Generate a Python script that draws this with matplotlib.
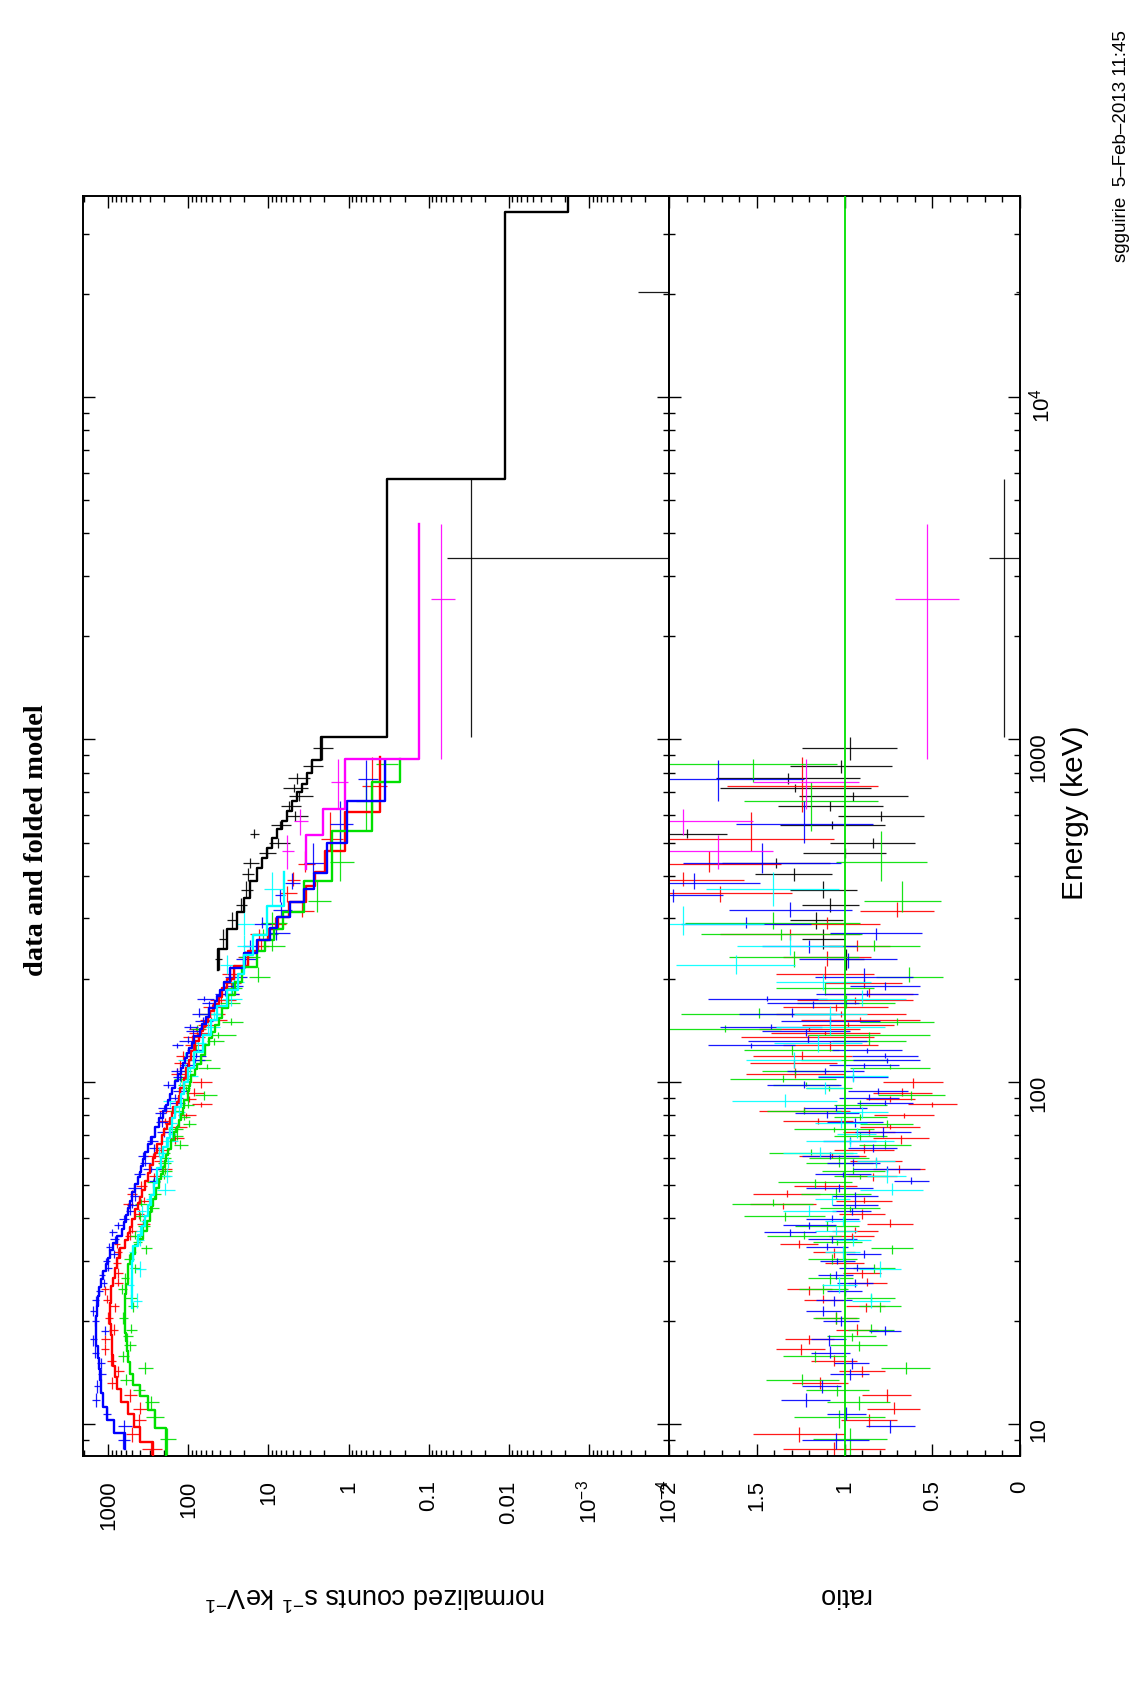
import numpy as np
import matplotlib
matplotlib.use("Agg")
import matplotlib.pyplot as plt
from matplotlib.ticker import FixedFormatter, FixedLocator, LogLocator, MultipleLocator, NullFormatter

plt.rcParams["font.family"] = ["Liberation Sans", "DejaVu Sans"]
plt.rcParams["mathtext.fontset"] = "custom"
plt.rcParams["mathtext.rm"] = "Liberation Sans"
plt.rcParams["mathtext.it"] = "Liberation Sans:italic"
plt.rcParams["mathtext.bf"] = "Liberation Sans:bold"

# ---- NaI detectors: bin centre (keV), folded model (counts/s/keV), data/model ratio, ratio error
blue_energy = [9.0, 9.87, 10.7, 11.8, 12.9, 14.0, 15.1, 16.2, 17.7, 18.7,
               20.0, 21.4, 23.0, 24.5, 25.9, 27.3, 28.7, 30.0, 31.4, 33.0,
               34.8, 36.4, 38.1, 39.9, 42.1, 43.6, 46.5, 49.0, 51.4, 53.9,
               55.5, 58.0, 60.9, 64.3, 67.1, 71.5, 76.2, 81.1, 83.9, 87.0,
               90.0, 93.9, 98.2, 103.0, 107.7, 111.8, 115.6, 119.3, 124, 128,
               132, 141, 145, 151, 158, 170, 175, 181, 190, 203,
               228, 249, 272, 290, 318, 352, 381, 435, 568, 766]
blue_model = [617, 850, 1050, 1160, 1215, 1255, 1290, 1350, 1410, 1420,
              1420, 1400, 1360, 1300, 1220, 1150, 1080, 1020, 960, 880,
              780, 680, 630, 595, 560, 540, 500, 460, 430, 405,
              390, 365, 345, 320, 290, 260, 230, 205, 192, 180,
              170, 158, 146, 135, 125, 117, 110, 104, 97, 91,
              84, 72, 67, 61, 56, 47, 44, 40, 36, 30,
              20, 14, 9.7, 7.8, 5.36, 3.65, 2.74, 1.87, 1.05, 0.348]
blue_ratio = [1.05, 0.74, 0.99, 1.22, 1.13, 0.97, 0.96, 1.08, 1.09, 0.77,
              1.02, 1.12, 1.06, 1.00, 0.94, 1.05, 0.93, 1.04, 0.89, 1.10,
              1.07, 1.31, 1.20, 1.07, 0.96, 0.94, 0.94, 1.03, 0.62, 1.01,
              0.76, 0.95, 1.08, 0.84, 0.97, 0.78, 0.94, 1.10, 1.05, 0.77,
              0.86, 0.81, 1.23, 0.95, 1.11, 0.89, 0.76, 0.77, 0.87, 1.53,
              1.21, 1.22, 1.42, 1.08, 1.30, 1.18, 1.44, 0.87, 0.77, 0.89,
              0.98, 1.20, 0.82, 1.56, 1.31, 1.98, 1.86, 1.47, 1.23, 1.72]
blue_err = [0.19, 0.14, 0.11, 0.14, 0.11, 0.11, 0.10, 0.11, 0.10, 0.09,
            0.10, 0.10, 0.10, 0.10, 0.10, 0.10, 0.10, 0.10, 0.10, 0.12,
            0.14, 0.15, 0.15, 0.15, 0.11, 0.13, 0.13, 0.19, 0.10, 0.16,
            0.19, 0.15, 0.16, 0.14, 0.15, 0.16, 0.16, 0.18, 0.18, 0.16,
            0.17, 0.17, 0.21, 0.20, 0.22, 0.20, 0.19, 0.19, 0.20, 0.25,
            0.34, 0.25, 0.29, 0.28, 0.30, 0.26, 0.34, 0.29, 0.20, 0.28,
            0.28, 0.27, 0.26, 0.37, 0.35, 0.29, 0.38, 0.45, 0.39, 0.49]
blue_range = (8.5, 869)

red_energy = [8.46, 9.35, 10.3, 11.1, 12.2, 13.2, 14.3, 15.3, 16.6, 17.7,
              18.9, 20.5, 22.2, 23.0, 24.8, 25.9, 27.7, 29.5, 31.8, 33.6,
              35.5, 36.8, 38.5, 41.1, 43.9, 44.9, 47.1, 49.7, 53.0, 55.5,
              58.9, 60.9, 63.2, 68.4, 71.5, 74.0, 77.0, 80.3, 82.5, 86.2,
              89.1, 92.7, 99.7, 105.6, 113.7, 118.8, 128, 135, 139, 143,
              147, 152, 158, 165, 173, 181, 194, 206, 232, 250,
              270, 290, 315, 357, 389, 434, 513, 731]
red_model = [280, 400, 480, 560, 700, 787, 830, 866, 890, 908,
             925, 950, 950, 934, 920, 866, 830, 780, 714, 618,
             560, 536, 500, 464, 420, 400, 380, 350, 320, 300,
             275, 260, 245, 215, 200, 185, 172, 162, 155, 140,
             132, 127, 115, 107, 98, 93, 82, 74, 70, 66,
             62, 57, 53, 48, 42, 38, 33, 27, 18, 13.5,
             10, 7.5, 5.5, 3.4, 2.6, 1.95, 1.12, 0.41]
red_ratio = [1.06, 1.26, 0.86, 0.72, 0.76, 1.14, 0.90, 1.06, 1.25, 1.20,
             0.93, 1.05, 0.88, 1.12, 1.20, 0.87, 0.90, 1.00, 1.06, 1.26,
             0.96, 0.94, 0.74, 0.90, 1.35, 0.89, 1.33, 1.11, 0.84, 0.69,
             0.82, 1.07, 0.89, 0.68, 0.86, 0.74, 1.15, 0.66, 1.23, 0.50,
             0.74, 0.67, 0.61, 1.28, 1.29, 1.24, 1.08, 1.21, 1.11, 1.20,
             0.98, 0.91, 1.02, 1.05, 0.94, 0.86, 0.89, 1.11, 1.10, 0.93,
             1.31, 1.10, 0.70, 1.71, 1.92, 1.77, 1.53, 1.24]
red_err = [0.29, 0.26, 0.16, 0.15, 0.14, 0.16, 0.13, 0.13, 0.14, 0.14,
           0.12, 0.12, 0.11, 0.11, 0.13, 0.11, 0.11, 0.11, 0.12, 0.11,
           0.13, 0.13, 0.13, 0.13, 0.19, 0.16, 0.19, 0.18, 0.14, 0.15,
           0.15, 0.19, 0.17, 0.16, 0.15, 0.17, 0.20, 0.17, 0.26, 0.14,
           0.14, 0.17, 0.17, 0.28, 0.25, 0.28, 0.27, 0.38, 0.31, 0.29,
           0.26, 0.34, 0.37, 0.30, 0.33, 0.25, 0.22, 0.28, 0.25, 0.19,
           0.40, 0.30, 0.21, 0.41, 0.35, 0.41, 0.47, 0.43]
red_range = (8.0, 889)

green_energy = [9.05, 10.5, 11.6, 12.6, 13.5, 14.6, 15.8, 17.0, 18.1, 18.9,
                20.5, 22.2, 23.4, 24.8, 26.8, 28.7, 30.3, 32.8, 34.0, 35.5,
                38.0, 40.6, 42.9, 43.9, 47.0, 50.9, 53.0, 54.9, 57.8, 59.9,
                62.2, 65.5, 69.6, 72.8, 75.3, 79.2, 82.5, 85.7, 91.8, 96.0,
                98.2, 101.9, 107.7, 109.9, 116.0, 124, 132, 137, 143, 150,
                158, 170, 188, 203, 232, 250, 270, 291, 338, 438,
                662, 847]
green_model = [190, 261, 316, 402, 486, 536, 562, 590, 601, 610,
               618, 618, 618, 600, 575, 562, 520, 464, 422, 372,
               332, 301, 290, 280, 255, 235, 220, 205, 196, 190,
               180, 165, 152, 140, 130, 125, 118, 112, 102, 98,
               96, 92, 82, 78, 70, 62, 55, 50, 46, 42,
               38, 32, 26, 21.5, 14, 11, 8.5, 6.5, 3.65, 1.61,
               0.51, 0.23]
green_ratio = [0.97, 1.03, 0.92, 1.04, 1.24, 0.65, 1.17, 0.92, 0.96, 0.85,
               1.05, 0.80, 0.85, 1.12, 1.08, 0.83, 1.07, 0.73, 1.04, 1.23,
               1.10, 1.34, 0.97, 1.41, 1.05, 1.17, 0.91, 0.95, 1.03, 1.03,
               1.19, 0.77, 0.91, 1.06, 0.76, 0.91, 1.23, 0.91, 0.62, 1.09,
               1.22, 1.35, 1.28, 0.74, 1.00, 1.30, 0.86, 0.86, 1.68, 0.70,
               1.49, 0.99, 1.11, 0.63, 1.29, 0.83, 1.36, 1.41, 0.67, 0.79,
               1.19, 1.52]
green_err = [0.21, 0.26, 0.18, 0.18, 0.21, 0.14, 0.18, 0.16, 0.14, 0.13,
             0.13, 0.12, 0.14, 0.14, 0.13, 0.12, 0.14, 0.12, 0.14, 0.21,
             0.18, 0.23, 0.17, 0.23, 0.20, 0.21, 0.15, 0.18, 0.19, 0.17,
             0.24, 0.15, 0.15, 0.23, 0.15, 0.15, 0.21, 0.15, 0.19, 0.13,
             0.19, 0.30, 0.19, 0.23, 0.25, 0.27, 0.21, 0.35, 0.32, 0.21,
             0.44, 0.28, 0.28, 0.19, 0.37, 0.26, 0.46, 0.50, 0.22, 0.26,
             0.38, 0.48]
green_range = (8.0, 879)

cyan_energy = [22.9, 25.6, 28.4, 31.8, 34.5, 36.8, 39.3, 42.0, 45.4, 48.2,
               53.0, 58.9, 62.2, 67.1, 70.4, 76.0, 81.5, 88.1, 96.0, 104,
               115.6, 130, 145, 158, 175, 196, 219, 250, 290, 366]
cyan_model = [511, 511, 500, 490, 420, 380, 350, 320, 290, 270,
              245, 220, 205, 185, 172, 160, 145, 125, 113, 100,
              86, 66, 52, 44, 33, 24, 20.5, 15.4, 10.5, 6.4]
cyan_ratio = [0.85, 1.03, 0.80, 1.01, 0.95, 1.05, 1.01, 1.20, 1.07, 0.73,
              0.76, 0.82, 1.14, 0.97, 0.93, 1.02, 0.90, 1.34, 1.11, 0.95,
              1.29, 1.15, 1.08, 1.08, 0.90, 1.12, 1.62, 1.31, 1.92, 1.41]
cyan_err = [0.11, 0.10, 0.12, 0.10, 0.10, 0.12, 0.10, 0.15, 0.10, 0.18,
            0.11, 0.11, 0.21, 0.25, 0.11, 0.15, 0.15, 0.30, 0.11, 0.20,
            0.27, 0.25, 0.31, 0.21, 0.25, 0.27, 0.34, 0.30, 0.46, 0.38]
cyan_range = (21.9, 410)

# ---- BGO detectors: bin edges (keV), folded model, ratio, ratio error (nan = model only)
black_edges = [212, 244, 280, 314, 344, 385, 422, 451, 482, 516, 546,
               577, 617, 663, 701, 743, 797, 872, 1014, 5780, 34700, 45000]
black_model = [42.2, 33.2, 24.9, 20.5, 16.9, 14.0, 12.1, 10.5, 9.1, 7.9,
               6.8, 5.9, 5.1, 4.4, 3.8, 3.3, 2.87, 2.22, 0.33, 0.011, 0.0018]
black_ratio = [0.99, 1.12, 1.16, 1.08, 1.12, 1.29, 1.39, 1.00, 0.84, 1.90,
               1.07, 0.79, 1.08, 0.95, 1.28, 1.32, 1.02, 0.97, 0.089, -0.01, np.nan]
black_err = [0.10, 0.125, 0.15, 0.165, 0.19, 0.22, 0.31, 0.235, 0.24, 0.23,
             0.30, 0.245, 0.30, 0.31, 0.43, 0.41, 0.29, 0.27, 0.09, 0.032, np.nan]

magenta_edges = [419, 525, 628, 879, 4270]
magenta_model = [3.38, 2.09, 1.10, 0.133]
magenta_ratio = [1.72, 1.92, 1.22, 0.53]
magenta_err = [0.31, 0.40, 0.30, 0.18]

COUNT_TICKS = [1000, 100, 10, 1, 0.1, 0.01, 1e-3, 1e-4]
COUNT_LABELS = ["1000", "100", "10", "1", "0.1", "0.01", r"$10^{-3}$", r"$10^{-4}$"]
RATIO_TICKS = [2, 1.5, 1, 0.5, 0]
RATIO_LABELS = ["2", "1.5", "1", "0.5", "0"]
ENERGY_TICKS = [10, 100, 1000, 1e4]
ENERGY_LABELS = ["10", "100", "1000", r"$10^4$"]

W, H = 1134, 1690
PANEL_TOP, PANEL_BOTTOM = 196.7, 1456.7
X_LEFT, X_MID, X_RIGHT = 83.3, 669.0, 1020.0


def centre_bins(centres, first, last):
    c = np.asarray(centres, dtype=float)
    inner = np.sqrt(c[:-1] * c[1:])
    return np.r_[first, inner], np.r_[inner, last], c


def edge_bins(edges):
    e = np.asarray(edges, dtype=float)
    return e[:-1], e[1:], 0.5 * (e[:-1] + e[1:])


def draw_data(ax_top, ax_rat, lo, hi, mid, model, ratio, err, color):
    model = np.asarray(model, float)
    ratio = np.asarray(ratio, float)
    err = np.asarray(err, float)
    ok = np.isfinite(ratio)
    counts = model * ratio
    cerr = model * err
    kw = dict(colors=color, linewidths=0.9, alpha=0.9, zorder=2)
    ax_top.hlines(mid[ok], np.clip(counts - cerr, 1e-9, None)[ok], (counts + cerr)[ok], **kw)
    pos = ok & (counts > 0)
    ax_top.vlines(counts[pos], lo[pos], hi[pos], **kw)
    ax_rat.hlines(mid[ok], (ratio - err)[ok], (ratio + err)[ok], **kw)
    ax_rat.vlines(ratio[ok], lo[ok], hi[ok], **kw)


def draw_model(ax, lo, hi, model, color):
    xs = np.repeat(np.asarray(model, float), 2)
    ys = np.column_stack([lo, hi]).ravel()
    ax.plot(xs, ys, color=color, lw=1.7, zorder=3)


fig = plt.figure(figsize=(W / 100, H / 100), dpi=100)
bottom = 1 - PANEL_BOTTOM / H
height = (PANEL_BOTTOM - PANEL_TOP) / H
ax1 = fig.add_axes([X_LEFT / W, bottom, (X_MID - X_LEFT) / W, height])
ax2 = fig.add_axes([X_MID / W, bottom, (X_RIGHT - X_MID) / W, height], sharey=ax1)

detectors = [
    ("black", edge_bins(black_edges), black_model, black_ratio, black_err),
    ("#ff0000", centre_bins(red_energy, *red_range), red_model, red_ratio, red_err),
    ("#00e000", centre_bins(green_energy, *green_range), green_model, green_ratio, green_err),
    ("#0000ff", centre_bins(blue_energy, *blue_range), blue_model, blue_ratio, blue_err),
    ("#00ffff", centre_bins(cyan_energy, *cyan_range), cyan_model, cyan_ratio, cyan_err),
    ("#ff00ff", edge_bins(magenta_edges), magenta_model, magenta_ratio, magenta_err),
]

for color, (lo, hi, mid), model, ratio, err in detectors:
    draw_data(ax1, ax2, lo, hi, mid, model, ratio, err, color)
for color, (lo, hi, mid), model, ratio, err in detectors:
    draw_model(ax1, lo, hi, model, color)

ax2.axvline(1.0, color="#00e000", lw=1.3, zorder=4)

ax1.set_xscale("log")
ax1.set_yscale("log")
ax1.set_xlim(2050, 1e-4)
ax1.set_ylim(8.1, 38700)
ax2.set_xlim(2, 0)

ax1.xaxis.set_major_locator(FixedLocator(COUNT_TICKS))
ax1.xaxis.set_major_formatter(FixedFormatter(COUNT_LABELS))
ax1.xaxis.set_minor_locator(LogLocator(base=10, subs=np.arange(2, 10), numticks=30))
ax1.xaxis.set_minor_formatter(NullFormatter())

ax1.yaxis.set_major_locator(FixedLocator(ENERGY_TICKS))
ax1.yaxis.set_major_formatter(FixedFormatter(ENERGY_LABELS))
ax1.yaxis.set_minor_locator(LogLocator(base=10, subs=np.arange(2, 10), numticks=30))
ax1.yaxis.set_minor_formatter(NullFormatter())

ax2.xaxis.set_major_locator(FixedLocator(RATIO_TICKS))
ax2.xaxis.set_major_formatter(FixedFormatter(RATIO_LABELS))
ax2.xaxis.set_minor_locator(MultipleLocator(0.1))

for ax in (ax1, ax2):
    for s in ax.spines.values():
        s.set_linewidth(1.4)
    ax.tick_params(which="both", direction="in", top=True, bottom=True,
                   left=True, right=True, width=1.0, colors="black")
    ax.tick_params(which="major", length=8.6)
    ax.tick_params(which="minor", length=4.3)
    ax.tick_params(axis="x", labelrotation=90, labelsize=16, pad=17)

ax1.tick_params(axis="y", labelleft=False, labelright=False)
ax2.tick_params(axis="y", labelleft=False, labelright=True, labelrotation=90,
                labelsize=16, pad=6)

fig.text(1075 / W, 1 - 813 / H, "Energy (keV)", rotation=90,
         ha="center", va="center", fontsize=21.5)
fig.text(375 / W, 1 - 1595 / H, r"normalized counts s$^{-1}$ keV$^{-1}$",
         rotation=180, ha="center", va="center", fontsize=19.5)
fig.text(844 / W, 1 - 1595 / H, "ratio", rotation=180,
         ha="center", va="center", fontsize=19.5)
fig.text(37 / W, 1 - 840 / H, "data and folded model", rotation=90,
         ha="center", va="center", fontsize=20.5, fontweight="bold",
         family=["Liberation Serif", "DejaVu Serif"])
fig.text(1122 / W, 1 - 262 / H, "sgguirie  5\u2013Feb\u20132013 11:45", rotation=90,
         ha="center", va="bottom", fontsize=13.5)

fig.savefig("out.png", dpi=100, facecolor="white")
